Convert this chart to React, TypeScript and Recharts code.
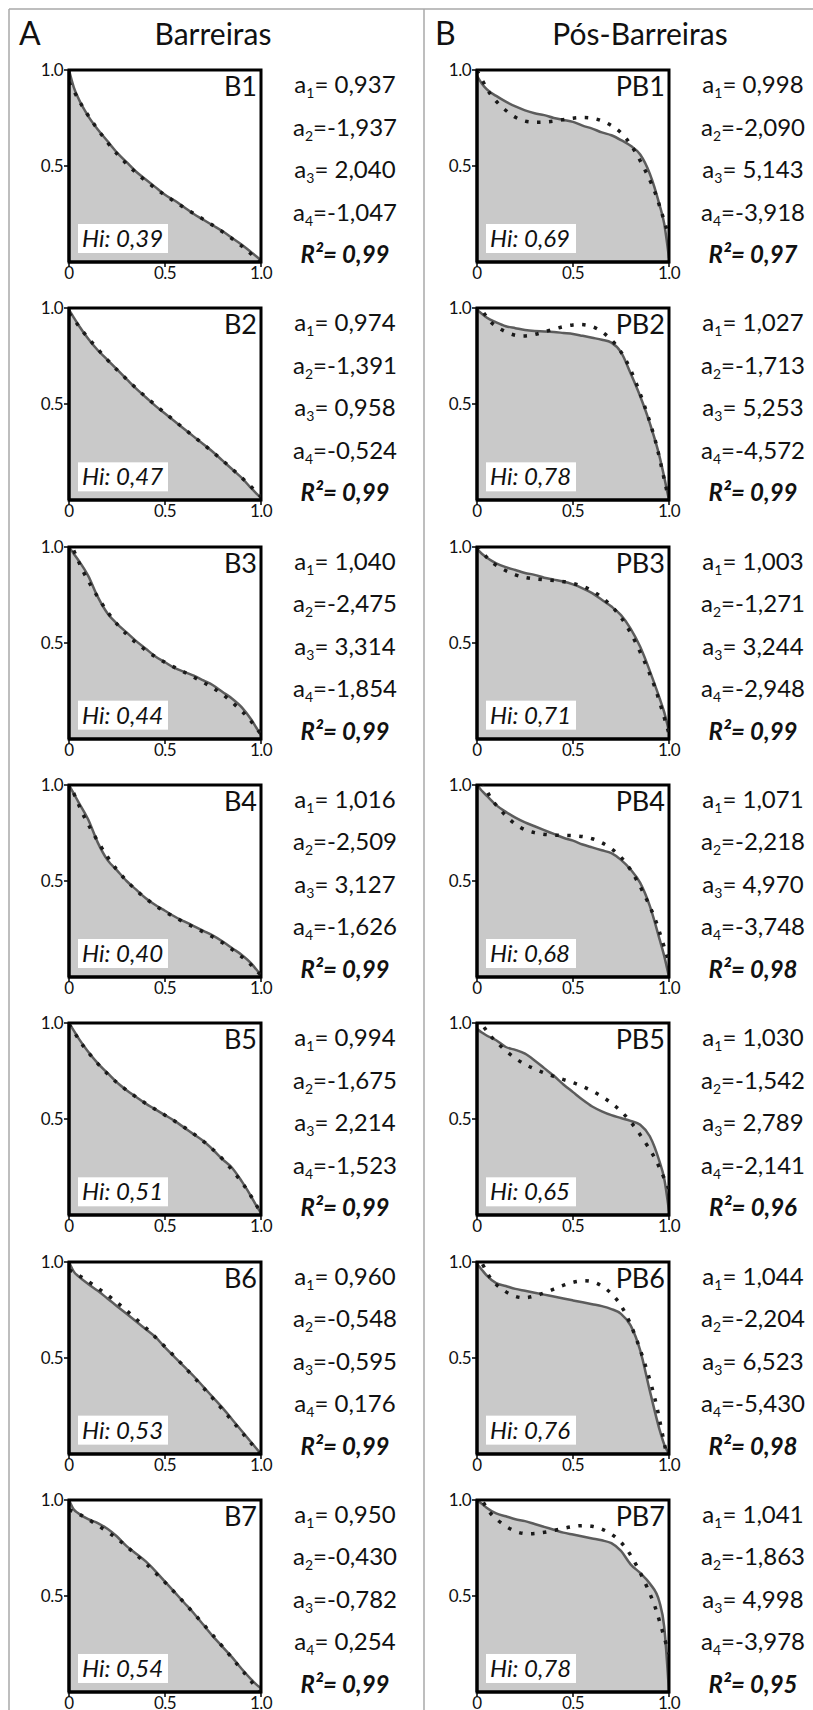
import React from 'react';
import { ComposedChart, Area, Line, XAxis, YAxis, ReferenceArea } from 'recharts';

// x positions (normalised area) of the observed hypsometric curves
const xObs = [0, 0.025, 0.05, 0.1, 0.15, 0.2, 0.25, 0.3, 0.35, 0.4, 0.45, 0.5, 0.55, 0.6, 0.65, 0.7, 0.75, 0.8, 0.85, 0.9, 0.95, 0.975, 1];
// x positions of the fitted (dotted) curves
const xFit = [0, 0.05, 0.1, 0.2, 0.3, 0.4, 0.5, 0.6, 0.7, 0.8, 0.9, 0.95, 1];

const panelNames = ['B1', 'B2', 'B3', 'B4', 'B5', 'B6', 'B7', 'PB1', 'PB2', 'PB3', 'PB4', 'PB5', 'PB6', 'PB7'];
const hiValues = ['0,39', '0,47', '0,44', '0,40', '0,51', '0,53', '0,54', '0,69', '0,78', '0,71', '0,68', '0,65', '0,76', '0,78'];
const r2Values = ['0,99', '0,99', '0,99', '0,99', '0,99', '0,99', '0,99', '0,97', '0,99', '0,99', '0,98', '0,96', '0,98', '0,95'];
const coefficients = [
  ['0,937', '-1,937', '2,040', '-1,047'],
  ['0,974', '-1,391', '0,958', '-0,524'],
  ['1,040', '-2,475', '3,314', '-1,854'],
  ['1,016', '-2,509', '3,127', '-1,626'],
  ['0,994', '-1,675', '2,214', '-1,523'],
  ['0,960', '-0,548', '-0,595', '0,176'],
  ['0,950', '-0,430', '-0,782', '0,254'],
  ['0,998', '-2,090', '5,143', '-3,918'],
  ['1,027', '-1,713', '5,253', '-4,572'],
  ['1,003', '-1,271', '3,244', '-2,948'],
  ['1,071', '-2,218', '4,970', '-3,748'],
  ['1,030', '-1,542', '2,789', '-2,141'],
  ['1,044', '-2,204', '6,523', '-5,430'],
  ['1,041', '-1,863', '4,998', '-3,978'],
];

const observed = [
  [1.0, 0.91, 0.85, 0.76, 0.69, 0.63, 0.57, 0.52, 0.47, 0.43, 0.39, 0.35, 0.32, 0.285, 0.25, 0.22, 0.19, 0.16, 0.125, 0.09, 0.05, 0.03, 0.01],
  [0.99, 0.95, 0.91, 0.84, 0.78, 0.73, 0.68, 0.63, 0.58, 0.535, 0.49, 0.45, 0.41, 0.37, 0.33, 0.29, 0.25, 0.205, 0.16, 0.115, 0.06, 0.035, 0.01],
  [1.0, 0.965, 0.93, 0.85, 0.74, 0.655, 0.6, 0.555, 0.51, 0.47, 0.43, 0.4, 0.37, 0.35, 0.33, 0.305, 0.28, 0.245, 0.21, 0.165, 0.1, 0.06, 0.02],
  [1.0, 0.955, 0.91, 0.82, 0.7, 0.61, 0.555, 0.5, 0.455, 0.41, 0.375, 0.345, 0.315, 0.29, 0.265, 0.24, 0.215, 0.185, 0.15, 0.115, 0.07, 0.04, 0.01],
  [1.0, 0.96, 0.92, 0.85, 0.79, 0.74, 0.69, 0.65, 0.615, 0.58, 0.55, 0.52, 0.49, 0.455, 0.42, 0.385, 0.34, 0.29, 0.245, 0.175, 0.095, 0.05, 0.01],
  [1.0, 0.95, 0.925, 0.885, 0.85, 0.81, 0.77, 0.73, 0.69, 0.65, 0.61, 0.555, 0.505, 0.455, 0.405, 0.35, 0.295, 0.24, 0.18, 0.12, 0.06, 0.03, 0.0],
  [1.0, 0.95, 0.93, 0.9, 0.88, 0.85, 0.81, 0.76, 0.72, 0.68, 0.63, 0.575, 0.52, 0.465, 0.41, 0.35, 0.29, 0.235, 0.18, 0.12, 0.065, 0.04, 0.02],
  [0.97, 0.93, 0.9, 0.865, 0.835, 0.81, 0.79, 0.775, 0.765, 0.75, 0.74, 0.73, 0.71, 0.695, 0.675, 0.66, 0.635, 0.605, 0.56, 0.46, 0.3, 0.2, 0.02],
  [0.99, 0.97, 0.95, 0.925, 0.905, 0.895, 0.885, 0.88, 0.878, 0.875, 0.87, 0.865, 0.855, 0.845, 0.835, 0.82, 0.77, 0.66, 0.54, 0.4, 0.23, 0.12, 0.0],
  [0.99, 0.965, 0.945, 0.915, 0.895, 0.88, 0.865, 0.855, 0.84, 0.83, 0.82, 0.805, 0.785, 0.76, 0.725, 0.69, 0.645, 0.575, 0.48, 0.355, 0.215, 0.14, 0.04],
  [1.0, 0.97, 0.945, 0.895, 0.86, 0.83, 0.805, 0.785, 0.765, 0.745, 0.725, 0.71, 0.69, 0.675, 0.66, 0.645, 0.61, 0.56, 0.49, 0.37, 0.2, 0.11, 0.0],
  [0.97, 0.95, 0.935, 0.91, 0.875, 0.86, 0.84, 0.805, 0.765, 0.725, 0.68, 0.64, 0.6, 0.565, 0.54, 0.52, 0.505, 0.49, 0.47, 0.41, 0.28, 0.19, 0.02],
  [0.99, 0.96, 0.93, 0.89, 0.875, 0.86, 0.85, 0.84, 0.83, 0.82, 0.81, 0.8, 0.79, 0.78, 0.77, 0.755, 0.73, 0.67, 0.54, 0.33, 0.13, 0.05, 0.0],
  [1.0, 0.98, 0.96, 0.93, 0.915, 0.9, 0.89, 0.875, 0.86, 0.845, 0.83, 0.82, 0.81, 0.8, 0.79, 0.775, 0.735, 0.665, 0.62, 0.565, 0.47, 0.34, 0.0],
];

const fitted = [
  [0.937, 0.845, 0.763, 0.623, 0.511, 0.422, 0.348, 0.283, 0.222, 0.157, 0.083, 0.040, -0.007],
  [0.974, 0.907, 0.844, 0.730, 0.629, 0.537, 0.453, 0.371, 0.290, 0.206, 0.116, 0.068, 0.017],
  [1.040, 0.924, 0.824, 0.663, 0.546, 0.462, 0.399, 0.348, 0.295, 0.232, 0.145, 0.090, 0.025],
  [1.016, 0.898, 0.795, 0.626, 0.501, 0.409, 0.340, 0.285, 0.234, 0.178, 0.105, 0.061, 0.008],
  [0.994, 0.916, 0.847, 0.735, 0.650, 0.581, 0.520, 0.457, 0.384, 0.291, 0.170, 0.095, 0.010],
  [0.960, 0.931, 0.899, 0.828, 0.747, 0.657, 0.559, 0.455, 0.345, 0.231, 0.113, 0.054, -0.007],
  [0.950, 0.927, 0.899, 0.835, 0.758, 0.669, 0.571, 0.465, 0.353, 0.236, 0.115, 0.054, -0.008],
  [0.998, 0.906, 0.837, 0.754, 0.728, 0.734, 0.749, 0.749, 0.711, 0.612, 0.427, 0.295, 0.133],
  [1.027, 0.954, 0.904, 0.858, 0.862, 0.890, 0.912, 0.903, 0.834, 0.678, 0.407, 0.221, -0.005],
  [1.003, 0.947, 0.905, 0.855, 0.834, 0.825, 0.810, 0.772, 0.692, 0.553, 0.338, 0.196, 0.028],
  [1.071, 0.972, 0.895, 0.796, 0.752, 0.739, 0.736, 0.720, 0.668, 0.558, 0.368, 0.236, 0.075],
  [1.030, 0.960, 0.902, 0.816, 0.761, 0.722, 0.689, 0.646, 0.583, 0.485, 0.341, 0.247, 0.136],
  [1.044, 0.949, 0.883, 0.821, 0.823, 0.859, 0.894, 0.897, 0.835, 0.675, 0.386, 0.182, -0.067],
  [1.041, 0.960, 0.901, 0.837, 0.825, 0.841, 0.862, 0.863, 0.822, 0.713, 0.513, 0.371, 0.198],
];

const FONT = "Lato, 'Open Sans', sans-serif";
const BOX = 192;
const ML = 44;
const MT = 12;
const MR = 18;
const XH = 28;
const colLeft = [69, 477];
const rowTop = (r: number) => 70 + r * 238.33;

const buildRows = (obs: number[], fit: number[]) =>
  xObs.map((x, i) => {
    const j = xFit.indexOf(x);
    return { x, obs: obs[i], fit: j >= 0 ? fit[j] : null };
  });

const fmtX = (v: number) => (v === 0 ? '0' : v.toFixed(1));
const fmtY = (v: number) => v.toFixed(1);

const Panel = ({ i }: { i: number }) => {
  const col = i < 7 ? 0 : 1;
  const row = i % 7;
  const rows = buildRows(observed[i], fitted[i]);
  const tick = { fontSize: 17, fill: '#111', fontFamily: FONT, letterSpacing: -0.5 };
  return (
    <div style={{ position: 'absolute', left: colLeft[col] - ML, top: rowTop(row) - MT }}>
      <ComposedChart
        width={ML + BOX + MR}
        height={MT + BOX + XH}
        data={rows}
        margin={{ top: MT, right: MR, left: ML - 34, bottom: 0 }}
      >
        <XAxis
          type="number"
          dataKey="x"
          domain={[0, 1]}
          ticks={[0, 0.5, 1]}
          tickFormatter={fmtX}
          allowDataOverflow
          height={XH}
          axisLine={{ stroke: '#000', strokeWidth: 3 }}
          tickLine={{ stroke: '#000', strokeWidth: 1.5 }}
          tickSize={5}
          tickMargin={0}
          tick={tick}
        />
        <YAxis
          type="number"
          domain={[0, 1]}
          ticks={[0.5, 1]}
          tickFormatter={fmtY}
          allowDataOverflow
          width={34}
          axisLine={{ stroke: '#000', strokeWidth: 3 }}
          tickLine={{ stroke: '#000', strokeWidth: 1.5 }}
          tickSize={5}
          tickMargin={1}
          tick={tick}
        />
        <Area
          type="monotone"
          dataKey="obs"
          stroke="#5c5c5c"
          strokeWidth={2.5}
          fill="#c9c9c9"
          fillOpacity={1}
          dot={false}
          activeDot={false}
          isAnimationActive={false}
        />
        <Line
          type="natural"
          dataKey="fit"
          stroke="#1a1a1a"
          strokeWidth={3.5}
          strokeDasharray="3.5 8.5"
          dot={false}
          activeDot={false}
          connectNulls
          isAnimationActive={false}
        />
        <ReferenceArea x1={0} x2={1} y1={0} y2={1} fill="none" stroke="#000" strokeWidth={3} />
      </ComposedChart>
    </div>
  );
};

const Annotations = ({ i }: { i: number }) => {
  const col = i < 7 ? 0 : 1;
  const left = colLeft[col];
  const top = rowTop(i % 7);
  const cx = left + 276;
  return (
    <g>
      <text x={left + BOX - 4} y={top + 26} textAnchor="end" fontSize={27} fill="#111">
        {panelNames[i]}
      </text>
      <rect x={left + 9} y={top + 154} width={90} height={29} fill="#fff" />
      <text x={left + 13} y={top + 177} fontSize={24} fontStyle="italic" fill="#111">
        {'Hi: ' + hiValues[i]}
      </text>
      {coefficients[i].map((v, k) => (
        <text key={k} x={cx} y={top + 23 + k * 42.5} textAnchor="middle" fontSize={24} fill="#111">
          <tspan>a</tspan>
          <tspan fontSize={14} dy={5}>{k + 1}</tspan>
          <tspan dy={-5}>{'=' + (v.startsWith('-') ? v : ' ' + v)}</tspan>
        </text>
      ))}
      <text x={cx} y={top + 193} textAnchor="middle" fontSize={24} fontWeight="bold" fontStyle="italic" fill="#111">
        {'R²= ' + r2Values[i]}
      </text>
    </g>
  );
};

export default function App() {
  const ids = panelNames.map((_, i) => i);
  return (
    <div style={{ position: 'absolute', left: 0, top: 0, width: 813, height: 1710, background: '#fff', fontFamily: FONT }}>
      {ids.map((i) => (
        <Panel key={i} i={i} />
      ))}
      <svg width={813} height={1710} style={{ position: 'absolute', left: 0, top: 0, pointerEvents: 'none', fontFamily: FONT }}>
        <line x1={9} y1={9} x2={813} y2={9} stroke="#a8a8a8" strokeWidth={1.5} />
        <line x1={9} y1={9} x2={9} y2={1710} stroke="#a8a8a8" strokeWidth={1.5} />
        <line x1={424} y1={9} x2={424} y2={1710} stroke="#a8a8a8" strokeWidth={1.5} />
        <text x={19} y={45} fontSize={32} fill="#111">A</text>
        <text x={213} y={45} fontSize={30} textAnchor="middle" fill="#111">Barreiras</text>
        <text x={435} y={45} fontSize={32} fill="#111">B</text>
        <text x={640} y={45} fontSize={30} textAnchor="middle" fill="#111">Pós-Barreiras</text>
        {ids.map((i) => (
          <Annotations key={i} i={i} />
        ))}
      </svg>
    </div>
  );
}
